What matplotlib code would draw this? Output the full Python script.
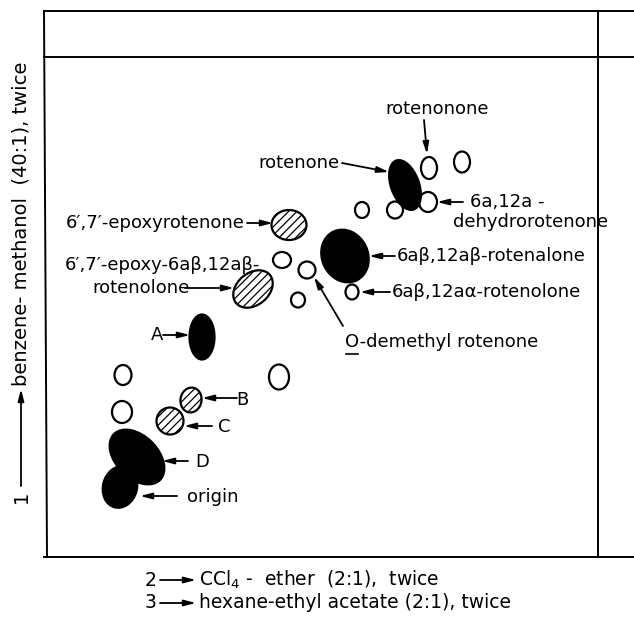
import matplotlib
matplotlib.use("Agg")
import matplotlib.pyplot as plt
from matplotlib.patches import Ellipse

# spot centres / sizes (pixel-like units, y grows downward)
open_x = [429, 462, 428, 395, 362, 282, 307, 352, 298, 123, 122, 279]
open_y = [168, 162, 202, 210, 210, 260, 270, 292, 300, 375, 412, 377]
open_w = [16, 16, 18, 16, 14, 18, 17, 13, 14, 17, 20, 20]
open_h = [22, 21, 20, 17, 16, 16, 17, 15, 15, 20, 22, 25]

filled_x = [405, 345, 202, 137, 120]
filled_y = [185, 256, 337, 457, 487]
filled_w = [28, 46, 25, 65, 34]
filled_h = [52, 54, 45, 42, 42]
filled_ang = [-20, -25, 0, 45, 15]

hatched_x = [289, 253, 191, 170]
hatched_y = [225, 289, 400, 421]
hatched_w = [35, 44, 21, 27]
hatched_h = [30, 32, 25, 27]
hatched_ang = [0, -40, 10, 0]

# labels: text, x, y, ha
labels = [
    ("rotenonone", 437, 109, "center"),
    ("rotenone", 339, 163, "right"),
    ("6a,12a -", 470, 202, "left"),
    ("dehydrorotenone", 453, 222, "left"),
    ("6′,7′-epoxyrotenone", 245, 223, "right"),
    ("6aβ,12aβ-rotenalone", 397, 256, "left"),
    ("6aβ,12aα-rotenolone", 392, 292, "left"),
    ("6′,7′-epoxy-6aβ,12aβ-", 65, 265, "left"),
    ("rotenolone", 92, 288, "left"),
    ("O-demethyl rotenone", 345, 342, "left"),
    ("A", 157, 335, "center"),
    ("B", 242, 400, "center"),
    ("C", 224, 427, "center"),
    ("D", 202, 462, "center"),
    ("origin", 187, 497, "left"),
]

# arrows: tail x, tail y, head x, head y
arrows = [
    (424, 120, 427, 154),
    (342, 163, 389, 172),
    (463, 202, 437, 202),
    (247, 223, 273, 223),
    (395, 256, 369, 256),
    (390, 292, 360, 292),
    (185, 288, 234, 288),
    (343, 326, 314, 277),
    (163, 335, 190, 335),
    (237, 398, 202, 398),
    (212, 426, 184, 426),
    (188, 461, 162, 461),
    (177, 496, 140, 496),
]

# solvent systems (direction number, text)
solvents = [
    ("1", "benzene- methanol  (40:1), twice"),
    ("2", "CCl$_4$ -  ether  (2:1),  twice"),
    ("3", "hexane-ethyl acetate (2:1), twice"),
]

plt.rcParams["hatch.linewidth"] = 0.9
fig = plt.figure(figsize=(6.34, 6.19), dpi=100)
ax = fig.add_axes([0, 0, 1, 1])
ax.set_xlim(0, 634)
ax.set_ylim(619, 0)
ax.axis("off")

# plate outline
lw = 1.4
ax.plot([44, 634], [11, 11], color="black", lw=lw)
ax.plot([44, 634], [57, 57], color="black", lw=lw)
ax.plot([44, 634], [557, 557], color="black", lw=lw)
ax.plot([44, 47], [11, 557], color="black", lw=lw)
ax.plot([598, 598], [11, 557], color="black", lw=lw)

for x, y, w, h in zip(open_x, open_y, open_w, open_h):
    ax.add_patch(Ellipse((x, y), w, h, facecolor="white", edgecolor="black", lw=1.6))
for x, y, w, h, a in zip(filled_x, filled_y, filled_w, filled_h, filled_ang):
    ax.add_patch(Ellipse((x, y), w, h, angle=a, facecolor="black", edgecolor="black", lw=1.6))
for x, y, w, h, a in zip(hatched_x, hatched_y, hatched_w, hatched_h, hatched_ang):
    ax.add_patch(Ellipse((x, y), w, h, angle=a, facecolor="white", edgecolor="black",
                         lw=1.6, hatch="////"))

fs = 13
for txt, x, y, ha in labels:
    ax.text(x, y, txt, ha=ha, va="center", fontsize=fs)
# underline the O of O-demethyl
ax.plot([346, 358], [354, 354], color="black", lw=1.2)

arrow_style = dict(arrowstyle="-|>,head_length=0.7,head_width=0.18",
                   color="black", lw=1.3, shrinkA=0, shrinkB=0)
for x0, y0, x1, y1 in arrows:
    ax.annotate("", xy=(x1, y1), xytext=(x0, y0), arrowprops=arrow_style)

# solvent directions
sfs = 14
ax.text(21, 497, solvents[0][0], rotation=90, rotation_mode="anchor",
        ha="center", va="center", fontsize=sfs)
ax.annotate("", xy=(21, 389), xytext=(21, 486), arrowprops=arrow_style)
ax.text(21, 386, solvents[0][1], rotation=90, rotation_mode="anchor",
        ha="left", va="center", fontsize=sfs)
for (num, txt), y in zip(solvents[1:], [580, 603]):
    ax.text(145, y, num, ha="left", va="center", fontsize=13.5)
    ax.annotate("", xy=(196, y), xytext=(160, y), arrowprops=arrow_style)
    ax.text(199, y, txt, ha="left", va="center", fontsize=13.5)

fig.savefig("out.png", dpi=100)
